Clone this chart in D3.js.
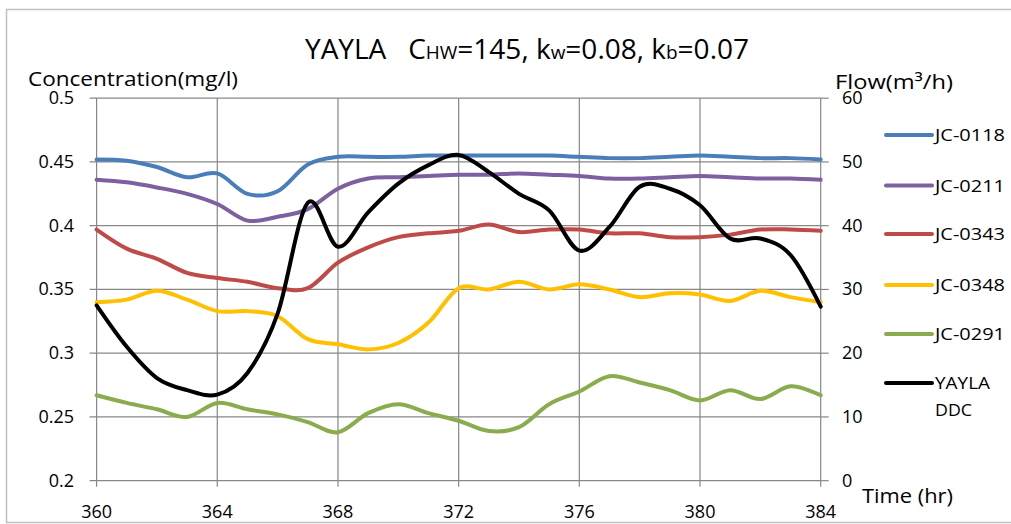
<!DOCTYPE html>
<html>
<head>
<meta charset="utf-8">
<script src="https://cdn.jsdelivr.net/npm/d3@7"></script>
<style>
  html, body { margin: 0; padding: 0; background: #fff; }
  svg { display: block; }
  text { font-family: "Open Sans", "Noto Sans", sans-serif; fill: #000; }
</style>
</head>
<body>
<svg id="chart" width="1011" height="524"></svg>
<script>
// ---- data ----
const hours = [360,361,362,363,364,365,366,367,368,369,370,371,372,373,374,375,376,377,378,379,380,381,382,383,384];
const jc0118 = [0.452,0.451,0.446,0.438,0.441,0.425,0.427,0.448,0.454,0.454,0.454,0.455,0.455,0.455,0.455,0.455,0.454,0.453,0.453,0.454,0.455,0.454,0.453,0.453,0.452];
const jc0211 = [0.436,0.434,0.430,0.425,0.417,0.404,0.407,0.413,0.429,0.437,0.438,0.439,0.440,0.440,0.441,0.440,0.439,0.437,0.437,0.438,0.439,0.438,0.437,0.437,0.436];
const jc0343 = [0.397,0.382,0.374,0.363,0.359,0.356,0.351,0.351,0.371,0.383,0.391,0.394,0.396,0.401,0.395,0.397,0.397,0.394,0.394,0.391,0.391,0.393,0.397,0.397,0.396];
const jc0348 = [0.340,0.342,0.349,0.342,0.333,0.333,0.329,0.311,0.307,0.303,0.308,0.324,0.351,0.350,0.356,0.350,0.354,0.350,0.344,0.347,0.346,0.341,0.349,0.344,0.340];
const jc0291 = [0.267,0.261,0.256,0.250,0.261,0.256,0.252,0.246,0.238,0.253,0.260,0.253,0.247,0.239,0.242,0.260,0.270,0.282,0.277,0.271,0.263,0.271,0.264,0.274,0.267];
const yaylaDDC = [27.5,21.0,16.1,14.2,13.5,16.9,26.2,43.6,36.7,42.1,46.6,49.5,51.1,48.4,45.0,42.4,36.1,39.8,46.1,45.8,43.2,38.0,38.0,35.4,27.3];

const seriesNames = ["JC-0118","JC-0211","JC-0343","JC-0348","JC-0291"];
const seriesValues = [jc0118, jc0211, jc0343, jc0348, jc0291];
const seriesColors = ["#4A7EBB","#7D60A0","#BE4B48","#FFC000","#8AAB4E"];
const flowName = ["YAYLA","DDC"];
const flowColor = "#000000";

const xTicks = [360,364,368,372,376,380,384];
const leftTicks = [0.2,0.25,0.3,0.35,0.4,0.45,0.5];
const rightTicks = [0,10,20,30,40,50,60];

// ---- layout ----
const svg = d3.select("#chart");
const L = 96.6, R = 820.7, T = 98.2, B = 480.7;

const x = d3.scaleLinear().domain([360,384]).range([L,R]);
const yL = d3.scaleLinear().domain([0.2,0.5]).range([B,T]);
const yR = d3.scaleLinear().domain([0,60]).range([B,T]);

// outer border
svg.append("rect").attr("x",6.5).attr("y",9.5).attr("width",1020).attr("height",513)
  .attr("fill","none").attr("stroke","#bfbfbf").attr("stroke-width",1.5);

const gridColor = "#878787";
svg.append("g").selectAll("line").data(leftTicks).join("line")
  .attr("x1", L-7).attr("x2", R).attr("y1", d=>yL(d)).attr("y2", d=>yL(d))
  .attr("stroke", gridColor).attr("stroke-width",1.2);
svg.append("g").selectAll("line").data(rightTicks).join("line")
  .attr("x1", R).attr("x2", R+8).attr("y1", d=>yR(d)).attr("y2", d=>yR(d))
  .attr("stroke", gridColor).attr("stroke-width",1.2);
svg.append("g").selectAll("line").data(xTicks).join("line")
  .attr("x1", d=>x(d)).attr("x2", d=>x(d)).attr("y1", T).attr("y2", B+6)
  .attr("stroke", gridColor).attr("stroke-width",1.2);

svg.append("g").selectAll("text").data(leftTicks).join("text")
  .attr("x", 74).attr("y", d=>yL(d)+6).attr("text-anchor","end")
  .attr("font-size",18).text(d=>+d.toFixed(2));
svg.append("g").selectAll("text").data(rightTicks).join("text")
  .attr("x", 842).attr("y", d=>yR(d)+6).attr("text-anchor","start")
  .attr("font-size",18).text(d=>d);
svg.append("g").selectAll("text").data(xTicks).join("text")
  .attr("x", d=>x(d)).attr("y", 518).attr("text-anchor","middle")
  .attr("font-size",18).text(d=>d);

const lineL = d3.line().x((d,i)=>x(hours[i])).y(d=>yL(d)).curve(d3.curveCardinal.tension(0));
const lineR = d3.line().x((d,i)=>x(hours[i])).y(d=>yR(d)).curve(d3.curveCardinal.tension(0));

seriesValues.forEach((vals,k)=>{
  svg.append("path").datum(vals).attr("d", lineL)
    .attr("fill","none").attr("stroke", seriesColors[k]).attr("stroke-width",4)
    .attr("stroke-linecap","round").attr("stroke-linejoin","round");
});
svg.append("path").datum(yaylaDDC).attr("d", lineR)
  .attr("fill","none").attr("stroke", flowColor).attr("stroke-width",4)
  .attr("stroke-linecap","round").attr("stroke-linejoin","round");

// title
const title = svg.append("text").attr("x", 527).attr("y", 59).attr("text-anchor","middle").attr("font-size",28);
title.append("tspan").text("YAYLA\u00a0\u00a0\u00a0C");
title.append("tspan").attr("font-size",19).text("HW");
title.append("tspan").text("=145, k");
title.append("tspan").attr("font-size",19).text("w");
title.append("tspan").text("=0.08, k");
title.append("tspan").attr("font-size",19).text("b");
title.append("tspan").text("=0.07");

// axis titles
svg.append("text").attr("x",28).attr("y",86).attr("font-size",20)
  .attr("textLength",210).attr("lengthAdjust","spacingAndGlyphs").text("Concentration(mg/l)");
svg.append("text").attr("x",835).attr("y",89).attr("font-size",20)
  .attr("textLength",118).attr("lengthAdjust","spacingAndGlyphs").text("Flow(m³/h)");
svg.append("text").attr("x",862).attr("y",503).attr("font-size",20)
  .attr("textLength",91).attr("lengthAdjust","spacingAndGlyphs").text("Time (hr)");

// legend
const legY = [135,185.5,234,285,334,383];
const legG = svg.append("g");
seriesNames.forEach((n,k)=>{
  legG.append("line").attr("x1",886).attr("x2",932).attr("y1",legY[k]).attr("y2",legY[k])
    .attr("stroke",seriesColors[k]).attr("stroke-width",4).attr("stroke-linecap","round");
  legG.append("text").attr("x",935).attr("y",legY[k]+6).attr("font-size",17)
    .attr("textLength",70).attr("lengthAdjust","spacingAndGlyphs").text(n);
});
legG.append("line").attr("x1",886).attr("x2",932).attr("y1",legY[5]).attr("y2",legY[5])
  .attr("stroke",flowColor).attr("stroke-width",4).attr("stroke-linecap","round");
legG.append("text").attr("x",935).attr("y",legY[5]+6).attr("font-size",17)
  .attr("textLength",55).attr("lengthAdjust","spacingAndGlyphs").text(flowName[0]);
legG.append("text").attr("x",935).attr("y",legY[5]+33).attr("font-size",17)
  .attr("textLength",37).attr("lengthAdjust","spacingAndGlyphs").text(flowName[1]);
</script>
</body>
</html>
